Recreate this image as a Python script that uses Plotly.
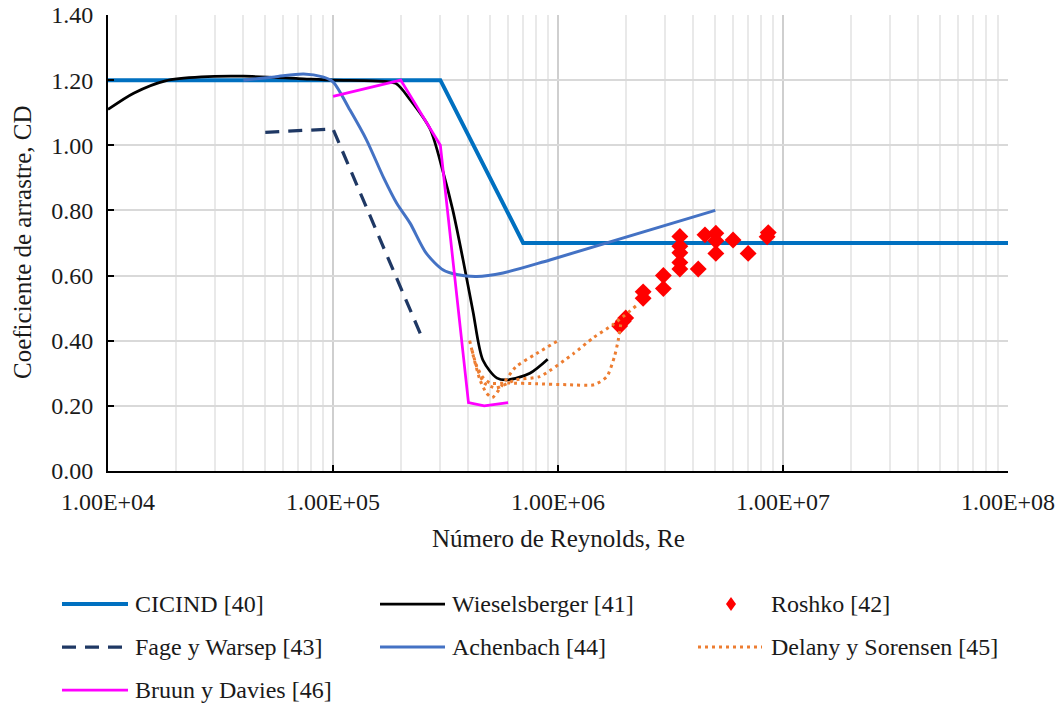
import plotly.graph_objects as go

# ---- data: drag coefficient vs Reynolds number ----
cicind_re = [1e4, 3e5, 7e5, 1e8]
cicind_cd = [1.20, 1.20, 0.70, 0.70]

wiesel_re = [1.0e4, 1.3e4, 1.8e4, 2.6e4, 4.0e4, 7.0e4, 1.0e5, 1.5e5, 1.9e5, 2.2e5,
             2.7e5, 3.08e5, 3.41e5, 3.78e5, 4.19e5, 4.64e5, 5.36e5, 6.0e5, 7.5e5, 9.0e5]
wiesel_cd = [1.11, 1.16, 1.198, 1.21, 1.212, 1.205, 1.20, 1.198, 1.19, 1.14,
             1.05, 0.92, 0.80, 0.65, 0.49, 0.34, 0.285, 0.28, 0.30, 0.343]

roshko_re = [1.88e6, 1.95e6, 2.0e6, 2.39e6, 2.39e6, 2.94e6, 2.94e6,
             3.48e6, 3.48e6, 3.48e6, 3.48e6, 3.48e6, 4.2e6, 4.5e6,
             5.03e6, 5.03e6, 5.03e6, 6.0e6, 7.0e6, 8.5e6, 8.6e6]
roshko_cd = [0.445, 0.46, 0.47, 0.53, 0.55, 0.56, 0.60,
             0.72, 0.69, 0.67, 0.64, 0.62, 0.62, 0.725,
             0.73, 0.707, 0.668, 0.709, 0.668, 0.719, 0.732]

fage_re = [5.0e4, 1.0e5, 2.45e5]
fage_cd = [1.04, 1.05, 0.42]

achen_re = [4.0e4, 5.5e4, 7.4e4, 9.0e4, 1.0e5, 1.19e5, 1.41e5, 1.68e5, 1.92e5, 2.2e5,
            2.6e5, 3.09e5, 3.55e5, 4.35e5, 5.7e5, 9.2e5, 5.0e6]
achen_cd = [1.20, 1.21, 1.219, 1.21, 1.195, 1.108, 1.016, 0.90, 0.822, 0.761,
            0.668, 0.617, 0.603, 0.597, 0.608, 0.648, 0.80]

# three measured runs, separated by gaps
delany_re = [4.05e5, 4.25e5, 4.5e5, 4.8e5, 5.1e5, 5.6e5, 6.5e5, 8.0e5, 1.0e6, None,
             4.15e5, 4.4e5, 4.7e5, 5.3e5, 6.5e5, 8.3e5, 1.17e6, 1.44e6, 1.76e6, 2.25e6, None,
             4.3e5, 4.6e5, 5.0e5, 6.0e5, 8.0e5, 1.1e6, 1.45e6, 1.65e6, 1.78e6, 1.85e6, 1.9e6]
delany_cd = [0.40, 0.34, 0.28, 0.24, 0.225, 0.26, 0.32, 0.36, 0.40, None,
             0.37, 0.31, 0.27, 0.255, 0.28, 0.29, 0.36, 0.41, 0.45, 0.51, None,
             0.33, 0.29, 0.27, 0.27, 0.268, 0.265, 0.265, 0.29, 0.35, 0.40, 0.45]

bruun_re = [1.0e5, 2.0e5, 3.0e5, 4.0e5, 4.7e5, 6.0e5]
bruun_cd = [1.15, 1.20, 1.00, 0.21, 0.20, 0.21]

x_ticks = [1e4, 1e5, 1e6, 1e7, 1e8]
x_ticktext = ["1.00E+04", "1.00E+05", "1.00E+06", "1.00E+07", "1.00E+08"]

FONT = "Liberation Serif"
TXT = "#1a1a1a"

W, H = 1064, 707
ML, MR, MT, MB = 108, 56, 15, 236
PW, PH = W - ML - MR, H - MT - MB


def fx(px):
    return (px - ML) / PW


def fy(py):
    return (H - MB - py) / PH


styles = {
    "CICIND [40]": dict(color="#0070C0", width=4, dash="solid"),
    "Wieselsberger [41]": dict(color="#000000", width=2.75, dash="solid"),
    "Fage y Warsep [43]": dict(color="#1F3864", width=3.25, dash="14px,9px"),
    "Achenbach [44]": dict(color="#4472C4", width=3, dash="solid"),
    "Delany y Sorensen [45]": dict(color="#ED7D31", width=3, dash="3px,4px"),
    "Bruun y Davies [46]": dict(color="#FF00FF", width=2.75, dash="solid"),
}

fig = go.Figure()


def add_line(name, xs, ys, smooth=0.0):
    st = styles[name]
    fig.add_trace(go.Scatter(
        x=xs, y=ys, mode="lines", name=name, showlegend=False,
        line=dict(color=st["color"], width=st["width"], dash=st["dash"],
                  shape="spline" if smooth else "linear", smoothing=smooth or 1),
        connectgaps=False,
    ))


add_line("CICIND [40]", cicind_re, cicind_cd)
add_line("Wieselsberger [41]", wiesel_re, wiesel_cd, smooth=0.8)
fig.add_trace(go.Scatter(
    x=roshko_re, y=roshko_cd, mode="markers", name="Roshko [42]", showlegend=False,
    marker=dict(symbol="diamond", size=13, color="#FF0000", line=dict(width=0)),
))
add_line("Fage y Warsep [43]", fage_re, fage_cd)
add_line("Achenbach [44]", achen_re, achen_cd, smooth=0.8)
add_line("Delany y Sorensen [45]", delany_re, delany_cd, smooth=0.6)
add_line("Bruun y Davies [46]", bruun_re, bruun_cd)

# ---- hand-drawn legend below the plot ----
legend_items = [
    ("CICIND [40]", 62, 128, 133, 604),
    ("Wieselsberger [41]", 380, 445, 450, 604),
    ("Roshko [42]", None, None, 769, 604),
    ("Fage y Warsep [43]", 62, 128, 133, 647),
    ("Achenbach [44]", 380, 445, 450, 647),
    ("Delany y Sorensen [45]", 698, 762, 769, 647),
    ("Bruun y Davies [46]", 62, 128, 133, 690),
]
shapes = []
annotations = []
for name, x0, x1, xt, yrow in legend_items:
    if name in styles:
        st = styles[name]
        shapes.append(dict(type="line", xref="paper", yref="paper",
                           x0=fx(x0), x1=fx(x1), y0=fy(yrow), y1=fy(yrow),
                           line=dict(color=st["color"], width=st["width"], dash=st["dash"])))
    else:
        shapes.append(dict(type="path", xref="paper", yref="paper",
                           xsizemode="pixel", ysizemode="pixel",
                           xanchor=fx(731), yanchor=fy(yrow),
                           path="M0,-7 L5,0 L0,7 L-5,0 Z",
                           fillcolor="#FF0000", line=dict(width=0)))
    annotations.append(dict(text=name, xref="paper", yref="paper",
                            x=fx(xt), y=fy(yrow), xanchor="left", yanchor="middle",
                            showarrow=False, font=dict(family=FONT, size=24, color=TXT)))

# axis titles
annotations.append(dict(text="Número de Reynolds, Re", xref="paper", yref="paper",
                        x=fx(558), y=fy(538), xanchor="center", yanchor="middle",
                        showarrow=False, font=dict(family=FONT, size=25, color=TXT)))
annotations.append(dict(text="Coeficiente de arrastre, CD", xref="paper", yref="paper",
                        x=fx(22), y=fy(242), xanchor="center", yanchor="middle", textangle=-90,
                        showarrow=False, font=dict(family=FONT, size=25, color=TXT)))

minor_vals = [m * 10 ** k for k in range(4, 8) for m in range(2, 10)]

fig.update_layout(
    width=W, height=H,
    margin=dict(l=ML, r=MR, t=MT, b=MB, pad=0, autoexpand=False),
    paper_bgcolor="white", plot_bgcolor="white",
    shapes=shapes, annotations=annotations,
    showlegend=False,
    xaxis=dict(
        type="log", range=[4, 8], automargin=False,
        tickmode="array", tickvals=x_ticks, ticktext=x_ticktext,
        showline=True, linecolor="#000000", linewidth=2,
        ticks="inside", ticklen=6, tickwidth=1.5, tickcolor="#000000",
        showgrid=True, gridcolor="#cfcfcf", gridwidth=1.5,
        minor=dict(tickmode="array", tickvals=minor_vals, showgrid=True,
                   gridcolor="#e9e9e9", gridwidth=1.5, ticks=""),
        tickfont=dict(family=FONT, size=24, color=TXT),
        ticklabelstandoff=8,
        zeroline=False,
    ),
    yaxis=dict(
        range=[0, 1.4], automargin=False,
        tickmode="linear", tick0=0, dtick=0.2, tickformat=".2f",
        showline=True, linecolor="#000000", linewidth=2,
        ticks="inside", ticklen=6, tickwidth=1.5, tickcolor="#000000",
        showgrid=True, gridcolor="#d9d9d9", gridwidth=1.5,
        tickfont=dict(family=FONT, size=24, color=TXT),
        ticklabelstandoff=8,
        zeroline=False,
    ),
)

fig.write_html("out.html")
